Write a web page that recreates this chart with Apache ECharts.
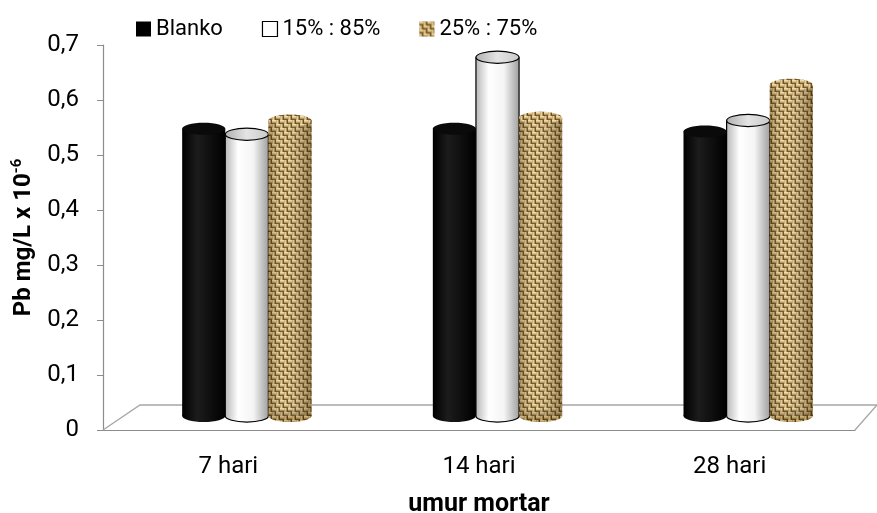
<!DOCTYPE html>
<html>
<head>
<meta charset="utf-8">
<script src="https://cdn.jsdelivr.net/npm/echarts@6/dist/echarts.min.js"></script>
<style>
  html, body { margin: 0; padding: 0; background: #fff; }
  #chart { width: 877px; height: 513px; }
</style>
</head>
<body>
<div id="chart"></div>
<script>
  // data
  var categories = ['7 hari', '14 hari', '28 hari'];
  var seriesNames = ['Blanko', '15% : 85%', '25% : 75%'];
  var blanko = [0.525, 0.525, 0.52];
  var mix15 = [0.515, 0.655, 0.54];
  var mix25 = [0.54, 0.545, 0.605];
  var yTicks = [0, 0.1, 0.2, 0.3, 0.4, 0.5, 0.6, 0.7];

  // layout
  var GRID_L = 103, GRID_R = 22, GRID_T = 45, GRID_B = 83;
  var DEPTH_X = 37, DEPTH_Y = 25;   // 3d floor depth
  var FONT = 'Roboto, "Noto Sans", sans-serif';

  // burlap texture (basket weave)
  function makeWeave() {
    var c = document.createElement('canvas');
    c.width = 16; c.height = 16;
    var g = c.getContext('2d');
    for (var i = 0; i < 4; i++) {
      for (var j = 0; j < 4; j++) {
        var x = j * 4, y = i * 4;
        if ((i + j) % 2 === 0) {
          g.fillStyle = '#ecd9a2'; g.fillRect(x, y, 4, 1);
          g.fillStyle = '#d8bd80'; g.fillRect(x, y + 1, 4, 1);
          g.fillStyle = '#b08f52'; g.fillRect(x, y + 2, 4, 1);
          g.fillStyle = '#6a4b1f'; g.fillRect(x, y + 3, 4, 1);
        } else {
          g.fillStyle = '#c9aa68'; g.fillRect(x, y, 1, 4);
          g.fillStyle = '#e2cb90'; g.fillRect(x + 1, y, 1, 4);
          g.fillStyle = '#a98a4e'; g.fillRect(x + 2, y, 1, 4);
          g.fillStyle = '#5e431c'; g.fillRect(x + 3, y, 1, 4);
        }
      }
    }
    return c;
  }
  var weave = makeWeave();
  var tanFill = { image: weave, repeat: 'repeat' };

  function grad(stops) {
    return new echarts.graphic.LinearGradient(0, 0, 1, 0, stops);
  }

  var styles = [
    { body: grad([{offset: 0, color: '#000'}, {offset: 0.35, color: '#1c1c1c'}, {offset: 1, color: '#000'}]),
      top: '#0a0a0a', stroke: null },
    { body: grad([{offset: 0, color: '#b8b8b8'}, {offset: 0.3, color: '#ffffff'}, {offset: 0.65, color: '#f4f4f4'}, {offset: 1, color: '#a0a0a0'}]),
      top: grad([{offset: 0, color: '#b0b0b0'}, {offset: 0.5, color: '#e4e4e4'}, {offset: 1, color: '#c8c8c8'}]), stroke: '#000' },
    { body: tanFill, top: tanFill, stroke: null, shade: true }
  ];

  function cylinder(si) {
    return function (params, api) {
      var cat = api.value(0), v = api.value(1);
      var base = api.coord([cat, 0]);
      var top = api.coord([cat, v]);
      var band = api.size([1, 0])[0];
      var w = band * 0.172;
      var rx = w / 2, ry = w * 0.14;
      var cx = base[0] + (si - 1) * w + DEPTH_X / 2;
      var yb = base[1] - 14;
      var yt = top[1] - DEPTH_Y / 2;
      var st = styles[si];
      var kids = [];
      kids.push({ type: 'ellipse', shape: {cx: cx, cy: yb, rx: rx, ry: ry},
        style: {fill: st.body, stroke: st.stroke, lineWidth: 1.2} });
      kids.push({ type: 'rect', shape: {x: cx - rx, y: yt, width: w, height: yb - yt},
        style: {fill: st.body} });
      if (st.shade) {
        kids.push({ type: 'ellipse', shape: {cx: cx, cy: yb, rx: rx, ry: ry},
          style: {fill: 'rgba(60,40,10,0.2)'} });
        kids.push({ type: 'rect', shape: {x: cx - rx, y: yt, width: w, height: yb - yt},
          style: {fill: grad([{offset: 0, color: 'rgba(50,30,0,0.35)'}, {offset: 0.35, color: 'rgba(255,255,255,0.08)'}, {offset: 1, color: 'rgba(50,30,0,0.4)'}])} });
      }
      if (st.stroke) {
        kids.push({ type: 'line', shape: {x1: cx - rx, y1: yt, x2: cx - rx, y2: yb}, style: {stroke: st.stroke, lineWidth: 1.2} });
        kids.push({ type: 'line', shape: {x1: cx + rx, y1: yt, x2: cx + rx, y2: yb}, style: {stroke: st.stroke, lineWidth: 1.2} });
      }
      kids.push({ type: 'ellipse', shape: {cx: cx, cy: yt, rx: rx, ry: ry},
        style: {fill: st.top, stroke: st.stroke, lineWidth: 1.2} });
      if (st.shade) {
        kids.push({ type: 'ellipse', shape: {cx: cx, cy: yt, rx: rx, ry: ry},
          style: {fill: 'rgba(255,255,255,0.08)'} });
      }
      return { type: 'group', children: kids };
    };
  }

  function toData(arr) {
    return arr.map(function (v, i) { return [i, v]; });
  }

  var chart = echarts.init(document.getElementById('chart'), null, {renderer: 'canvas'});

  var gb = 513 - GRID_B;
  var floor = [[GRID_L, gb], [GRID_L + DEPTH_X, gb - DEPTH_Y], [877, gb - DEPTH_Y], [877 - GRID_R, gb]];

  chart.setOption({
    animation: false,
    backgroundColor: '#fff',
    textStyle: {fontFamily: FONT},
    grid: {left: GRID_L, right: GRID_R, top: GRID_T, bottom: GRID_B, containLabel: false, outerBoundsMode: 'none'},
    legend: {
      left: 131, top: 13,
      itemWidth: 15, itemHeight: 15, itemGap: 39,
      icon: 'rect',
      textStyle: {fontSize: 22, color: '#000', fontFamily: FONT},
      data: [
        {name: seriesNames[0], itemStyle: {color: '#000'}},
        {name: seriesNames[1], itemStyle: {color: '#fff', borderColor: '#000', borderWidth: 1.2}},
        {name: seriesNames[2], itemStyle: {color: tanFill}}
      ]
    },
    xAxis: {
      type: 'category',
      data: categories,
      name: 'umur mortar',
      nameLocation: 'middle',
      nameGap: 62,
      nameTextStyle: {fontSize: 25, fontWeight: 'bold', color: '#000'},
      axisLine: {lineStyle: {color: '#8c8c8c', width: 1.2}},
      axisTick: {show: false},
      axisLabel: {fontSize: 24, color: '#000', margin: 25}
    },
    yAxis: {
      type: 'value',
      min: 0, max: 0.7, interval: 0.1,
      name: 'Pb mg/L x 10{sup|-6}',
      nameLocation: 'middle',
      nameRotate: 90,
      nameGap: 66,
      nameTextStyle: {
        fontSize: 24, fontWeight: 'bold', color: '#000',
        rich: {sup: {fontSize: 15, fontWeight: 'bold', verticalAlign: 'top', padding: [0, 0, 12, 0]}}
      },
      axisLine: {show: true, lineStyle: {color: '#8c8c8c', width: 1.2}},
      axisTick: {show: true, length: 6, lineStyle: {color: '#8c8c8c'}},
      splitLine: {show: false},
      axisLabel: {
        fontSize: 24, color: '#000', margin: 24,
        formatter: function (v) {
          if (yTicks.indexOf(Math.round(v * 10) / 10) < 0) return '';
          return v === 0 ? '0' : v.toFixed(1).replace('.', ',');
        }
      }
    },
    graphic: [{
      type: 'polyline', silent: true, z: 1,
      shape: {points: floor},
      style: {stroke: '#a6a6a6', lineWidth: 1.3, fill: null}
    }],
    series: [
      {name: seriesNames[0], type: 'custom', renderItem: cylinder(0), data: toData(blanko), itemStyle: {color: '#000'}, z: 3},
      {name: seriesNames[1], type: 'custom', renderItem: cylinder(1), data: toData(mix15), itemStyle: {color: '#fff'}, z: 4},
      {name: seriesNames[2], type: 'custom', renderItem: cylinder(2), data: toData(mix25), itemStyle: {color: '#c4a86f'}, z: 5}
    ]
  });
</script>
</body>
</html>
